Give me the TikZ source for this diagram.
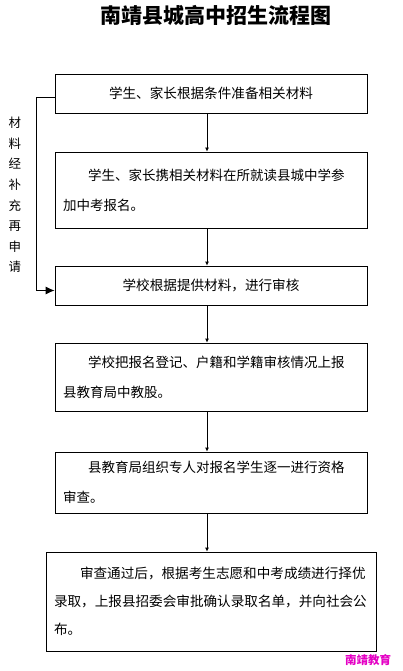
\documentclass[tikz,border=0pt]{standalone}
\usepackage{fontspec}
\setmainfont{Noto Sans CJK SC}
\usetikzlibrary{arrows.meta}

\definecolor{wmpink}{RGB}{228,0,196}

\begin{document}
\begin{tikzpicture}[x=1pt, y=-1pt, line width=0.8pt,
    stepbox/.style={draw, minimum width=312pt, inner sep=0pt},
    flow/.style={-{Latex[length=4pt,width=4pt]}}]
    \useasboundingbox (0,0) rectangle (402,671);

    % Title
    \node[font=\fontsize{21}{21}\selectfont\bfseries] (title) at (215.5,15) {南靖县城高中招生流程图};

    % Steps
    \node[stepbox, minimum height=39pt, font=\fontsize{13.6}{30}\selectfont] (s1) at (211,93.5) {学生、家长根据条件准备相关材料};
    \node[stepbox, minimum height=76pt, text width=296pt, align=left, font=\fontsize{13.5}{30}\selectfont] (s2) at (211,190)
        {\hspace*{25pt}学生、家长携相关材料在所就读县城中学参\\加中考报名。};
    \node[stepbox, minimum height=39pt, font=\fontsize{13.6}{30}\selectfont] (s3) at (211,285.5) {学校根据提供材料，进行审核};
    \node[stepbox, minimum height=68pt, text width=296pt, align=left, font=\fontsize{13.5}{30}\selectfont] (s4) at (211,377)
        {\hspace*{25pt}学校把报名登记、户籍和学籍审核情况上报\\县教育局中教股。};
    \node[stepbox, minimum height=61pt, text width=296pt, align=left, font=\fontsize{13.5}{30}\selectfont] (s5) at (211,482.5)
        {\hspace*{25pt}县教育局组织专人对报名学生逐一进行资格\\审查。};
    \node[stepbox, minimum width=330pt, minimum height=99pt, text width=314pt, align=left, font=\fontsize{13.6}{28}\selectfont] (s6) at (211,601.5)
        {\hspace*{26pt}审查通过后，根据考生志愿和中考成绩进行择优\\录取，上报县招委会审批确认录取名单，并向社会公\\布。};

    % Arrows
    \foreach \a/\b in {s1/s2, s2/s3, s3/s4, s4/s5, s5/s6}
        \draw[flow] ([xshift=-4pt]\a.south) -- ([xshift=-4pt]\b.north);

    % Feedback loop
    \draw[-{Latex[length=9pt,width=8pt]}] ([yshift=-3.5pt]s1.west) -- ++(-18,0) |- ([yshift=-5pt]s3.west);
    \node[align=center, font=\fontsize{12.5}{20.6}\selectfont] (note) at (15,195)
        {材\\料\\经\\补\\充\\再\\申\\请};

    % Watermark
    \node[text=wmpink, font=\fontsize{11.5}{12}\selectfont\bfseries] (mark) at (368,660) {南靖教育};
\end{tikzpicture}
\end{document}
